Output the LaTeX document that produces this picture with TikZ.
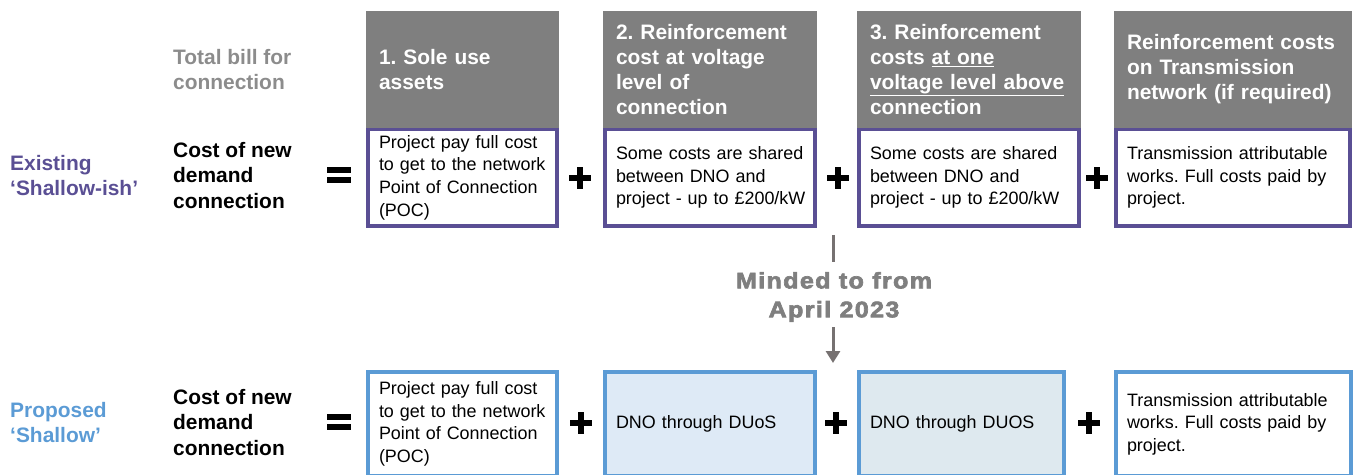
\documentclass[tikz,border=0pt]{standalone}
\usepackage{fontspec}
\setmainfont{Liberation Sans}
\newfontfamily\widefont[LetterSpace=6,FakeBold=3,FakeStretch=1.12]{Liberation Sans Bold}
\usetikzlibrary{arrows.meta}
\definecolor{hdrgray}{HTML}{7F7F7F}
\definecolor{lblgray}{HTML}{8C8C8C}
\definecolor{arrgray}{HTML}{767171}
\definecolor{purp}{HTML}{5A4F94}
\definecolor{sblue}{HTML}{5B9BD5}
\definecolor{fillA}{HTML}{DEEAF6}
\definecolor{fillB}{HTML}{DEE9EF}
\tikzset{
  hdr/.style={fill=hdrgray, text=white, font=\fontsize{21}{25}\selectfont\bfseries,
    align=left, inner xsep=13bp, inner ysep=0pt, minimum height=117bp, anchor=center},
  topbody/.style={draw=purp, line width=4bp, fill=white, font=\fontsize{18}{22.7}\selectfont,
    align=left, inner xsep=11bp, inner ysep=0pt, minimum height=97bp, anchor=center},
  botbody/.style={draw=sblue, line width=4bp, fill=white, font=\fontsize{18}{22.7}\selectfont,
    align=left, inner xsep=11bp, inner ysep=0pt, minimum height=104bp, anchor=center},
  lbl/.style={font=\fontsize{21}{25.5}\selectfont\bfseries, align=left, anchor=west, inner sep=0pt},
  opbar/.style={fill=black, draw=none},
  marr/.style={draw=arrgray, line width=3bp},
}
\begin{document}
\frenchspacing
\begin{tikzpicture}[x=1bp,y=-1bp]
\useasboundingbox (0,0) rectangle (1359,475);

% left labels
\node[lbl, text=purp] (exist) at (10,175.5) {Existing\\‘Shallow-ish’};
\node[lbl, text=sblue] (prop) at (10,422.5) {Proposed\\‘Shallow’};
\node[lbl, text=lblgray] (total) at (173,69.5) {Total bill for\\connection};
\node[lbl, text=black] (cost1) at (173,175.5) {Cost of new\\demand\\connection};
\node[lbl, text=black] (cost2) at (173,422.5) {Cost of new\\demand\\connection};

% equals signs
\foreach \cy/\nm in {175/eqA,422/eqB}{
  \fill[opbar] (327,\cy-8) rectangle (351,\cy-2);
  \fill[opbar] (327,\cy+2) rectangle (351,\cy+8);
  \coordinate (\nm) at (339,\cy);
}

% top row: bodies first, headers on top
\node[topbody, minimum width=189bp, text width=167bp] (b1) at (462.5,177.5)
  {Project pay full cost\\to get to the network\\Point of Connection\\(POC)};
\node[topbody, minimum width=210bp, text width=188bp] (b2) at (710,177.5)
  {Some costs are shared\\between DNO and\\\mbox{project - up to £200/kW}};
\node[topbody, minimum width=220bp, text width=198bp] (b3) at (969,177.5)
  {Some costs are shared\\between DNO and\\\mbox{project - up to £200/kW}};
\node[topbody, minimum width=234bp, text width=212bp] (b4) at (1233,177.5)
  {Transmission attributable\\works. Full costs paid by\\project.};

\node[hdr, minimum width=193bp, text width=167bp] (h1) at (462.5,69.5)
  {1. Sole use\\assets};
\node[hdr, minimum width=214bp, text width=188bp] (h2) at (710,69.5)
  {2. Reinforcement\\cost at voltage\\level of\\connection};
\node[hdr, minimum width=224bp, text width=198bp] (h3) at (969,69.5)
  {3. Reinforcement\\costs \underline{at one}\\\underline{voltage level above}\\connection};
\node[hdr, minimum width=238bp, text width=212bp] (h4) at (1233,69.5)
  {Reinforcement costs\\on Transmission\\network (if required)};

% bottom row
\node[botbody, minimum width=189bp, text width=167bp] (c1) at (462.5,424)
  {Project pay full cost\\to get to the network\\Point of Connection\\(POC)};
\node[botbody, fill=fillA, minimum width=210bp, text width=188bp] (c2) at (710,424)
  {DNO through DUoS};
\node[botbody, fill=fillB, minimum width=205bp, text width=183bp] (c3) at (961.5,424)
  {DNO through DUOS};
\node[botbody, minimum width=235bp, text width=213bp] (c4) at (1233.5,424)
  {Transmission attributable\\works. Full costs paid by\\project.};

% plus signs
\foreach \px/\py/\nm in {580/178/pA,838/178/pB,1097/178/pC,581/423/pD,836/423/pE,1089/423/pF}{
  \fill[opbar] (\px-11,\py-3) rectangle (\px+11,\py+3);
  \fill[opbar] (\px-3,\py-11) rectangle (\px+3,\py+11);
  \coordinate (\nm) at (\px,\py);
}

% minded-to arrow
\coordinate (m1) at (833,235);
\coordinate (m2) at (833,262);
\coordinate (m3) at (833,327);
\coordinate (m4) at (833,363);
\node[font=\fontsize{22.5}{29}\selectfont\widefont, text=hdrgray, align=center, inner sep=0pt]
  (mt) at (834,297) {Minded to from\\April 2023};
\draw[marr] (m1) -- (m2);
\draw[marr, -{Triangle[width=14bp,length=12bp]}] (m3) -- (m4);
\end{tikzpicture}
\end{document}
